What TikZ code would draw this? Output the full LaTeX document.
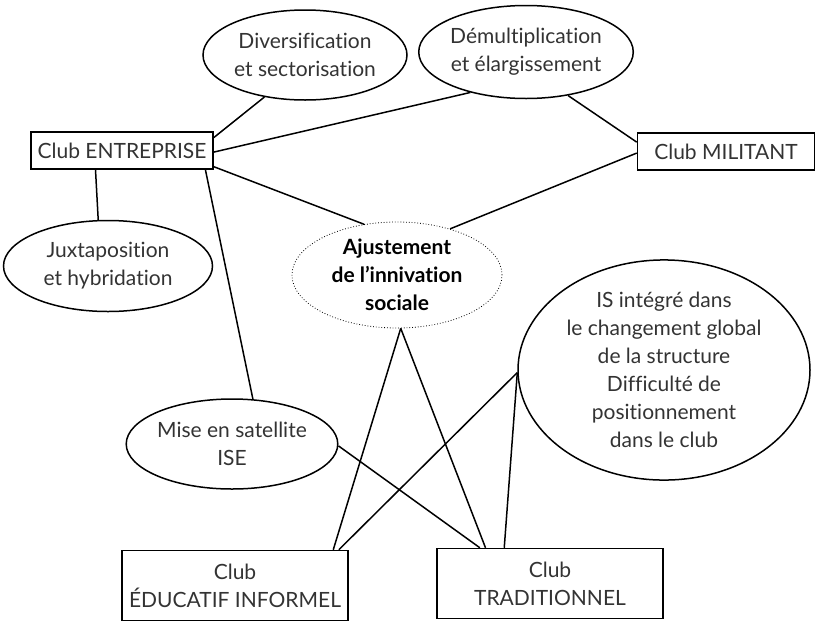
\documentclass[tikz,border=0pt]{standalone}
\usepackage{fontspec}
\setmainfont{Lato}[Ligatures=NoCommon]
\usepackage{tikz}
\usetikzlibrary{shapes.geometric}

\begin{document}
\begin{tikzpicture}[x=1pt, y=-1pt, line width=1.5pt,
        font=\fontsize{21}{28}\selectfont,
        club/.style = {draw, rectangle, align=center, inner sep=0pt, text=black!80},
        idee/.style = {draw, ellipse, align=center, inner sep=0pt, text=black!80},
        centre/.style = {draw, ellipse, dotted, line width=0.8pt, align=center, inner sep=0pt, font=\fontsize{21}{28}\selectfont\bfseries}]
        \useasboundingbox (0,0) rectangle (816,622);

        \node[club, minimum width=182pt, minimum height=37pt](entreprise) at (122,150.5) {Club ENTREPRISE};
        \node[club, minimum width=177pt, minimum height=37pt](militant) at (726,151.5) {Club MILITANT};
        \node[club, minimum width=226pt, minimum height=70pt](educatif) at (235,585.5) {Club\\ÉDUCATIF INFORMEL};
        \node[club, minimum width=226pt, minimum height=70pt](traditionnel) at (550,583.5) {Club\\TRADITIONNEL};

        \node[idee, minimum width=204pt, minimum height=90pt](diversification) at (305,55) {Diversification\\et sectorisation};
        \node[idee, minimum width=204pt, minimum height=93pt](demultiplication) at (526,52) {Démultiplication\\et élargissement};
        \node[idee, minimum width=209pt, minimum height=91pt](juxtaposition) at (108,266) {Juxtaposition\\et hybridation};
        \node[idee, minimum width=201pt, minimum height=90pt](satellite) at (232,444) {Mise en satellite\\ISE};
        \node[idee, minimum width=292pt, minimum height=217pt](integre) at (664,370) {IS intégré dans\\le changement global\\de la structure\\Difficulté de\\positionnement\\dans le club};
        \node[centre, minimum width=210pt, minimum height=106pt](ajustement) at (397,275) {Ajustement\\de l’innivation\\sociale};

        \draw (entreprise.8) -- (diversification.226);
        \draw (entreprise.-1.6) -- (demultiplication.216.6);
        \draw (entreprise.-10.3) -- (ajustement.123.4);
        \draw (entreprise.-13.7) -- (satellite.65);
        \draw (entreprise.216.5) -- (juxtaposition.102.5);
        \draw (demultiplication.-46.3) -- (militant.174.6);
        \draw (ajustement.41.4) -- (militant.181);
        \draw (ajustement.-86.8) -- (educatif.20.9);
        \draw (ajustement.-86.8) -- (traditionnel.151.7);
        \draw (integre.181.6) -- (educatif.19);
        \draw (integre.181.6) -- (traditionnel.142.3);
        \draw (satellite.-1.1) -- (traditionnel.153.1);
    \end{tikzpicture}
\end{document}
